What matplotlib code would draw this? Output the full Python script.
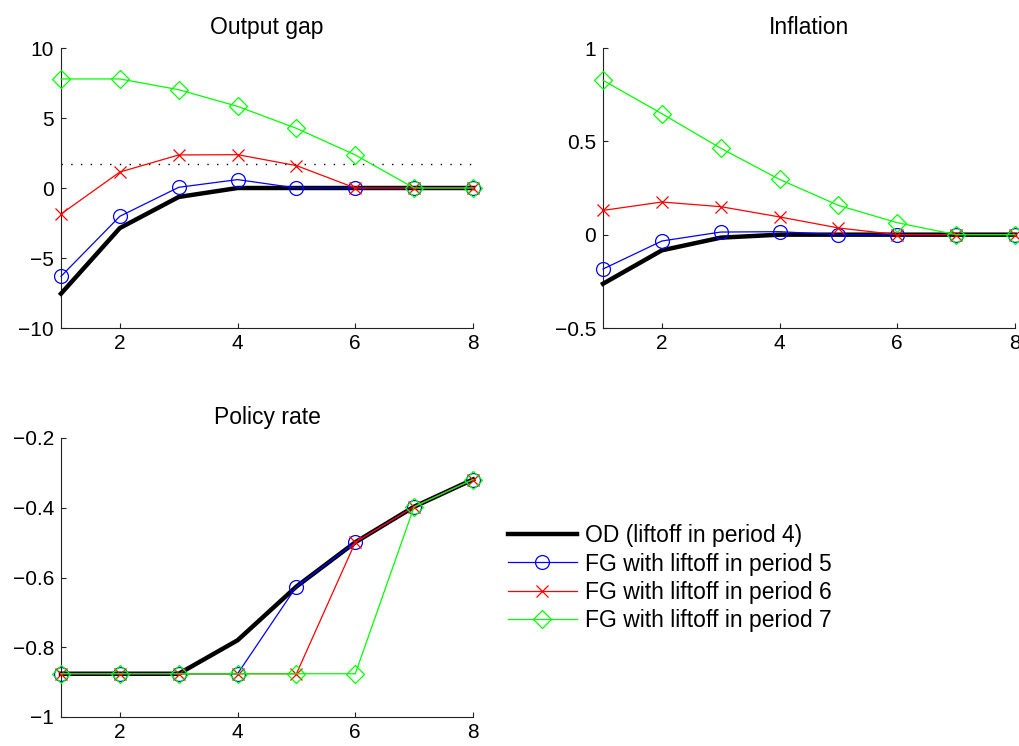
import matplotlib
matplotlib.use("Agg")
import matplotlib.pyplot as plt
import numpy as np

plt.rcParams["font.family"] = ["Liberation Sans", "DejaVu Sans"]
plt.rcParams["font.size"] = 15
plt.rcParams["axes.unicode_minus"] = True

periods = np.arange(1, 9)

# Output gap responses
gap_od = [-7.55, -2.86, -0.64, 0.0, 0.0, 0.0, 0.0, 0.0]
gap_fg5 = [-6.31, -2.02, 0.05, 0.60, 0.0, 0.0, 0.0, 0.0]
gap_fg6 = [-1.86, 1.14, 2.36, 2.38, 1.60, 0.0, 0.0, 0.0]
gap_fg7 = [7.79, 7.79, 7.02, 5.83, 4.26, 2.36, 0.0, 0.0]
gap_ref = 1.74

# Inflation responses
infl_od = [-0.263, -0.084, -0.016, 0.0, 0.0, 0.0, 0.0, 0.0]
infl_fg5 = [-0.184, -0.034, 0.014, 0.016, 0.0, 0.0, 0.0, 0.0]
infl_fg6 = [0.130, 0.175, 0.150, 0.095, 0.036, 0.0, 0.0, 0.0]
infl_fg7 = [0.827, 0.648, 0.463, 0.296, 0.157, 0.064, 0.0, 0.0]

# Policy rate paths
rate_od = [-0.876, -0.876, -0.876, -0.780, -0.626, -0.499, -0.397, -0.319]
rate_fg5 = [-0.876, -0.876, -0.876, -0.876, -0.626, -0.499, -0.397, -0.319]
rate_fg6 = [-0.876, -0.876, -0.876, -0.876, -0.876, -0.499, -0.397, -0.319]
rate_fg7 = [-0.876, -0.876, -0.876, -0.876, -0.876, -0.876, -0.397, -0.319]

labels = ["OD (liftoff in period 4)",
          "FG with liftoff in period 5",
          "FG with liftoff in period 6",
          "FG with liftoff in period 7"]

W, H = 1019, 746
fig = plt.figure(figsize=(W / 100, H / 100), dpi=100)

def px_axes(left, top, right, bottom):
    return fig.add_axes([left / W, 1 - bottom / H, (right - left) / W, (bottom - top) / H])

def style_axes(ax, title, ylim, yticks, yticklabels):
    ax.set_xlim(1, 8)
    ax.set_ylim(*ylim)
    ax.set_xticks([2, 4, 6, 8])
    ax.set_yticks(yticks)
    ax.set_yticklabels(yticklabels)
    ax.set_title(title, fontsize=16.5, pad=10)
    for side in ("top", "right"):
        ax.spines[side].set_visible(False)
    for side in ("left", "bottom"):
        ax.spines[side].set_linewidth(0.8)
        ax.spines[side].set_color("#222222")
    ax.tick_params(direction="in", length=3.5, width=0.8, color="#222222")
    ax.tick_params(axis="y", pad=5)
    ax.tick_params(axis="x", pad=4)

def draw_series(ax, od, fg5, fg6, fg7):
    handles = []
    h, = ax.plot(periods, od, color="black", lw=3.2, clip_on=False, zorder=3)
    handles.append(h)
    h, = ax.plot(periods, fg5, color="#0000ff", lw=0.9, marker="o", ms=10,
                 mfc="none", mew=0.9, clip_on=False, zorder=4)
    handles.append(h)
    h, = ax.plot(periods, fg6, color="#ff0000", lw=0.9, marker="x", ms=8,
                 mew=0.9, clip_on=False, zorder=5)
    handles.append(h)
    h, = ax.plot(periods, fg7, color="#00ff00", lw=0.9, marker="D", ms=9,
                 mfc="none", mew=0.9, clip_on=False, zorder=6)
    handles.append(h)
    return handles

ax1 = px_axes(61, 48, 473, 328)
ax1.plot([1, 8], [gap_ref, gap_ref], color="black", lw=1.0, dashes=(1, 6), zorder=2)
draw_series(ax1, gap_od, gap_fg5, gap_fg6, gap_fg7)
style_axes(ax1, "Output gap", (-10, 10), [-10, -5, 0, 5, 10],
           ["\u221210", "\u22125", "0", "5", "10"])

ax2 = px_axes(603, 48, 1015, 328)
draw_series(ax2, infl_od, infl_fg5, infl_fg6, infl_fg7)
style_axes(ax2, "Inflation", (-0.5, 1), [-0.5, 0, 0.5, 1],
           ["\u22120.5", "0", "0.5", "1"])

ax3 = px_axes(61, 438, 473, 717)
handles = draw_series(ax3, rate_od, rate_fg5, rate_fg6, rate_fg7)
style_axes(ax3, "Policy rate", (-1, -0.2), [-1, -0.8, -0.6, -0.4, -0.2],
           ["\u22121", "\u22120.8", "\u22120.6", "\u22120.4", "\u22120.2"])

fig.legend(handles, labels, loc="upper left",
           bbox_to_anchor=(508 / W, 1 - 524 / H),
           frameon=False, fontsize=16.5, handlelength=3.0, handletextpad=0.35,
           labelspacing=0.24, borderpad=0, borderaxespad=0)

fig.savefig("out.png", dpi=100)
